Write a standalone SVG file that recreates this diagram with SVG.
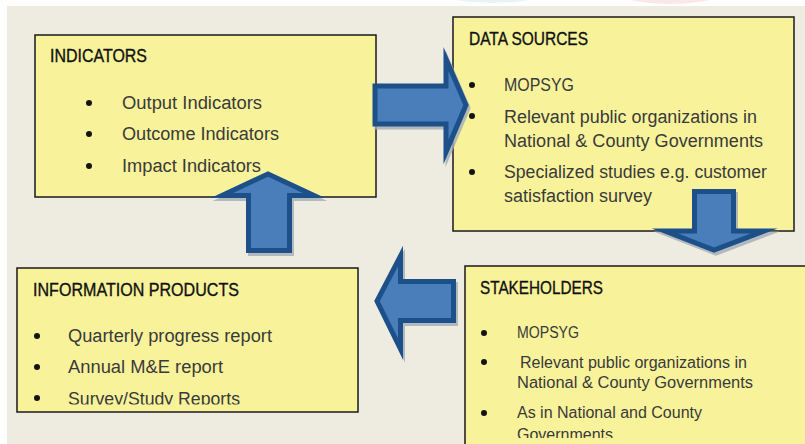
<svg xmlns="http://www.w3.org/2000/svg" width="805" height="444" viewBox="0 0 805 444">
<style>
.box{fill:#f8f39b;stroke:#1a1a1a;stroke-width:1.5}
.title{font-family:"Liberation Sans",Arial,sans-serif;font-size:18px;fill:#111111;stroke:#111111;stroke-width:0.35}
.item{font-family:"Liberation Sans",Arial,sans-serif;font-size:18px;fill:#3a3a3a}
.small{font-size:16px}
.dot{fill:#141414}
.arrow{fill:#4a7ebb;stroke:#1d4f88;stroke-width:5;stroke-linejoin:miter;stroke-miterlimit:10}
.shadow{fill:#a3acb6;stroke:#a3acb6;stroke-width:5;stroke-linejoin:miter;stroke-miterlimit:10;opacity:0.8}
</style>
<defs>
<clipPath id="clipInfo"><rect x="17" y="268" width="341" height="136.5"/></clipPath>
<clipPath id="clipStake"><rect x="465" y="266" width="340" height="172"/></clipPath>
</defs>
<rect x="0" y="0" width="805" height="444" fill="#ffffff"/>
<rect x="7" y="6" width="798" height="438" fill="#eeebe0"/>
<path d="M455 0 Q490 6 530 0 Z" fill="#dcefee" opacity="0.7"/>
<path d="M630 0 Q670 8 710 0 Z" fill="#f6dede" opacity="0.7"/>

<g id="indicators">
<rect class="box" x="35" y="35" width="341" height="162"/>
<text class="title" x="50" y="62" textLength="97" lengthAdjust="spacingAndGlyphs">INDICATORS</text>
<circle class="dot" cx="89" cy="103" r="3"/>
<circle class="dot" cx="89" cy="134" r="3"/>
<circle class="dot" cx="89" cy="166" r="3"/>
<text class="item" x="122" y="109" textLength="140" lengthAdjust="spacingAndGlyphs">Output Indicators</text>
<text class="item" x="122" y="140" textLength="157" lengthAdjust="spacingAndGlyphs">Outcome Indicators</text>
<text class="item" x="122" y="172" textLength="139" lengthAdjust="spacingAndGlyphs">Impact Indicators</text>
</g>

<g id="data-sources">
<rect class="box" x="453" y="17" width="341" height="214"/>
<text class="title" x="469" y="45" textLength="119" lengthAdjust="spacingAndGlyphs">DATA SOURCES</text>
<circle class="dot" cx="472" cy="85" r="3"/>
<circle class="dot" cx="472" cy="116" r="3"/>
<circle class="dot" cx="472" cy="172" r="3"/>
<text class="item" x="504" y="91" textLength="70" lengthAdjust="spacingAndGlyphs">MOPSYG</text>
<text class="item" x="504" y="123" textLength="253" lengthAdjust="spacingAndGlyphs">Relevant public organizations in</text>
<text class="item" x="504" y="147" textLength="259" lengthAdjust="spacingAndGlyphs">National &amp; County Governments</text>
<text class="item" x="504" y="178" textLength="263" lengthAdjust="spacingAndGlyphs">Specialized studies e.g. customer</text>
<text class="item" x="504" y="202" textLength="148" lengthAdjust="spacingAndGlyphs">satisfaction survey</text>
</g>

<g id="information-products">
<rect class="box" x="17" y="268" width="341" height="144"/>
<text class="title" x="33" y="296" textLength="206" lengthAdjust="spacingAndGlyphs">INFORMATION PRODUCTS</text>
<circle class="dot" cx="37" cy="336" r="3"/>
<circle class="dot" cx="37" cy="367" r="3"/>
<circle class="dot" cx="37" cy="398" r="3"/>
<text class="item" x="68" y="342" textLength="204" lengthAdjust="spacingAndGlyphs">Quarterly progress report</text>
<text class="item" x="68" y="373" textLength="155" lengthAdjust="spacingAndGlyphs">Annual M&amp;E report</text>
<text class="item" x="68" y="405" textLength="172" lengthAdjust="spacingAndGlyphs" clip-path="url(#clipInfo)">Survey/Study Reports</text>
</g>

<g id="stakeholders">
<rect class="box" x="465" y="266" width="345" height="190"/>
<text class="title" x="480" y="294" textLength="123" lengthAdjust="spacingAndGlyphs">STAKEHOLDERS</text>
<circle class="dot" cx="484" cy="333" r="3"/>
<circle class="dot" cx="484" cy="362" r="3"/>
<circle class="dot" cx="484" cy="413" r="3"/>
<text class="item small" x="517" y="338" textLength="62" lengthAdjust="spacingAndGlyphs">MOPSYG</text>
<text class="item small" x="520" y="368" textLength="227" lengthAdjust="spacingAndGlyphs">Relevant public organizations in</text>
<text class="item small" x="517" y="388" textLength="236" lengthAdjust="spacingAndGlyphs">National  &amp; County Governments</text>
<text class="item small" x="517" y="418" textLength="185" lengthAdjust="spacingAndGlyphs">As in National and County</text>
<text class="item small" x="517" y="440" textLength="96" lengthAdjust="spacingAndGlyphs" clip-path="url(#clipStake)">Governments</text>
</g>

<g id="connectors">
<g transform="translate(2,3)">
<polygon class="shadow" points="375,86 446,86 446,59 466,105 446,152 446,124 375,124"/>
<polygon class="shadow" points="694.5,191.5 733.5,191.5 733.5,231 764,231 714,250 665,231 694.5,231"/>
<polygon class="shadow" points="453.5,281.5 400.5,281.5 400.5,256 377,301 400.5,349 400.5,320.5 453.5,320.5"/>
<polygon class="shadow" points="248.5,250.5 248.5,195.5 222,195.5 268,174 314,195.5 289.5,195.5 289.5,250.5"/>
</g>
<polygon class="arrow" points="375,86 446,86 446,59 466,105 446,152 446,124 375,124"/>
<polygon class="arrow" points="694.5,191.5 733.5,191.5 733.5,231 764,231 714,250 665,231 694.5,231"/>
<polygon class="arrow" points="453.5,281.5 400.5,281.5 400.5,256 377,301 400.5,349 400.5,320.5 453.5,320.5"/>
<polygon class="arrow" points="248.5,250.5 248.5,195.5 222,195.5 268,174 314,195.5 289.5,195.5 289.5,250.5"/>
</g>
</svg>
